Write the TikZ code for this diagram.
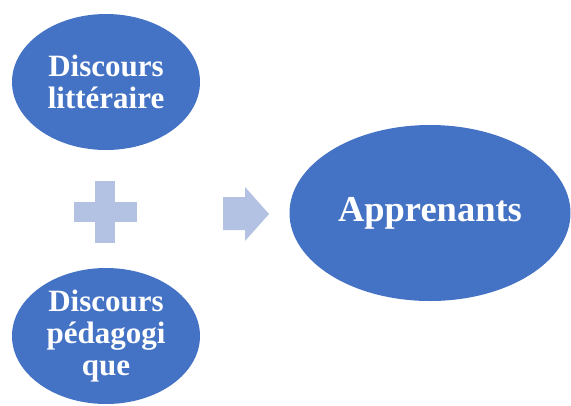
\documentclass[tikz,border=0pt]{standalone}
\usepackage{fontspec}
\setmainfont{Liberation Serif}
\usepackage{xcolor}
\usetikzlibrary{shapes.geometric}
\definecolor{bubbleblue}{HTML}{4472C4}
\definecolor{signblue}{HTML}{B3C1E2}
\tikzset{
  bubble/.style={ellipse, fill=bubbleblue, text=white, inner sep=0pt, align=center,
    font=\fontsize{31}{32}\selectfont\bfseries},
  sign/.style={fill=signblue, draw=none}
}

\begin{document}
\begin{tikzpicture}[x=1pt,y=-1pt]
\useasboundingbox (0,0) rectangle (571,405);
% the two kinds of discourse
\node[bubble, minimum width=188pt, minimum height=136pt] (litt) at (106,82) {Discours\\littéraire};
\node[bubble, minimum width=188pt, minimum height=136pt] (peda) at (106,336) {Discours\\pédagogi\\que};
% the learners
\node[bubble, minimum width=281pt, minimum height=176pt, font=\fontsize{36.5}{37}\selectfont\bfseries] (appr) at (430,213) {Apprenants};
% plus sign
\coordinate (plus) at (105,212);
\fill[sign] ([xshift=-31.5pt,yshift=10pt]plus) rectangle ([xshift=31.5pt,yshift=-10pt]plus);
\fill[sign] ([xshift=-10pt,yshift=31pt]plus) rectangle ([xshift=10pt,yshift=-31pt]plus);
% arrow
\fill[sign] (223,197) -- (245,197) -- (245,187) -- (269,214) -- (245,241) -- (245,230) -- (223,230) -- cycle;
\end{tikzpicture}
\end{document}
